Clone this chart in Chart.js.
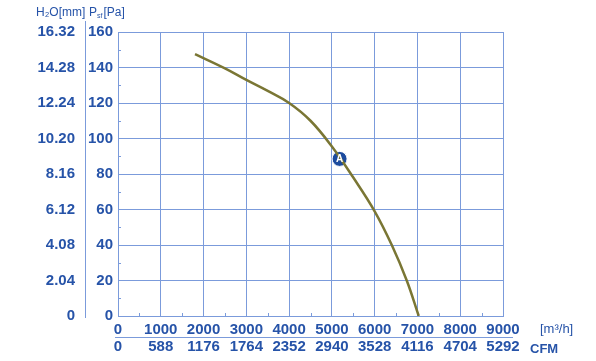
<!DOCTYPE html>
<html>
<head>
<meta charset="utf-8">
<script src="https://cdn.jsdelivr.net/npm/chart.js@4.4.1/dist/chart.umd.min.js"></script>
<style>
    html, body { margin: 0; padding: 0; background: #fff; }
    #wrap { width: 596px; height: 361px; position: relative; }
</style>
</head>
<body>
<div id="wrap"><canvas id="fan-chart"></canvas></div>
<script>
/* Fan curve: static pressure vs air flow */

const FLOW_TICKS = [0, 1000, 2000, 3000, 4000, 5000, 6000, 7000, 8000, 9000];
const FLOW_LABELS = ["0", "1000", "2000", "3000", "4000", "5000", "6000", "7000", "8000", "9000"];
const CFM_LABELS = ["0", "588", "1176", "1764", "2352", "2940", "3528", "4116", "4704", "5292"];
const PA_TICKS = [0, 20, 40, 60, 80, 100, 120, 140, 160];
const MM_LABELS = ["0", "2.04", "4.08", "6.12", "8.16", "10.20", "12.24", "14.28", "16.32"];

const CURVE_FLOW = [1800, 2500, 3000, 3500, 4000, 4500, 5000, 5500, 6000, 6400, 6750, 7030];
const CURVE_PA   = [147.5, 139.5, 133, 126.8, 120, 110, 95.5, 78, 59, 40, 20, 0];

const POINT_A_FLOW = [5180];
const POINT_A_PA = [88.5];
const POINT_A_LABEL = "A";

const MINOR_FLOW = [500, 1500, 2500, 3500, 4500, 5500, 6500, 7500, 8500];
const MINOR_PA = [10, 30, 50, 70, 90, 110, 130, 150];

const TEXT_BLUE = "#2653a8";
const GRID_BLUE = "#7b9bdb";
const CURVE_OLIVE = "#7a7634";
const MARK_BLUE = "#1c4b9e";
const FONT = "'Liberation Sans', Arial, sans-serif";

/* ---------- Extra drawing: separators, minor ticks, titles ---------- */

const decorPlugin = {
    id: "decor",
    afterDraw(chart) {
        const { ctx, chartArea, scales } = chart;
        const xs = scales.x, ys = scales.y, xc = scales.xC, yh = scales.yH;
        ctx.save();

        // separators between the double label rows / columns
        ctx.strokeStyle = GRID_BLUE;
        ctx.lineWidth = 1;
        ctx.beginPath();
        ctx.moveTo(yh.right + 0.5, chartArea.top - 11);
        ctx.lineTo(yh.right + 0.5, chartArea.bottom + 2);
        ctx.moveTo(chartArea.left - 3, xc.top + 0.5);
        ctx.lineTo(chartArea.right + 10, xc.top + 0.5);
        ctx.stroke();

        // minor ticks
        ctx.beginPath();
        MINOR_FLOW.forEach(v => {
            const px = Math.round(xs.getPixelForValue(v)) + 0.5;
            ctx.moveTo(px, chartArea.bottom);
            ctx.lineTo(px, chartArea.bottom - 3);
        });
        MINOR_PA.forEach(v => {
            const py = Math.round(ys.getPixelForValue(v)) + 0.5;
            ctx.moveTo(chartArea.left, py);
            ctx.lineTo(chartArea.left + 3, py);
        });
        ctx.stroke();

        // axis titles
        ctx.fillStyle = TEXT_BLUE;
        ctx.textBaseline = "middle";
        ctx.textAlign = "left";
        ctx.font = `12px ${FONT}`;
        ctx.fillText("H\u2082O[mm]", 36, 13);

        let x = 89;
        ctx.fillText("P", x, 13);
        x += ctx.measureText("P").width;
        ctx.font = `7px ${FONT}`;
        ctx.fillText("sf", x, 16);
        x += ctx.measureText("sf").width + 1;
        ctx.font = `12px ${FONT}`;
        ctx.fillText("[Pa]", x, 13);

        ctx.font = `13px ${FONT}`;
        ctx.fillText("[m\u00b3/h]", 540, xs.top + 13);
        ctx.font = `bold 13px ${FONT}`;
        ctx.fillText("CFM", 530, xc.top + 12);

        // label inside point A
        const meta = chart.getDatasetMeta(1);
        const pt = meta.data[0];
        if (pt) {
            ctx.fillStyle = "#fff";
            ctx.textAlign = "center";
            ctx.font = `bold 10px ${FONT}`;
            ctx.fillText(POINT_A_LABEL, pt.x, pt.y + 0.5);
        }
        ctx.restore();
    }
};

/* ---------- Chart ---------- */

function renderChart() {
    const ctx = document.getElementById("fan-chart");
    const tickFont = { family: FONT, size: 15, weight: "bold" };

    new Chart(ctx, {
        type: "scatter",
        data: {
            datasets: [
                {
                    label: "Fan curve",
                    data: CURVE_FLOW.map((f, i) => ({ x: f, y: CURVE_PA[i] })),
                    showLine: true,
                    borderColor: CURVE_OLIVE,
                    borderWidth: 2.5,
                    pointRadius: 0,
                    tension: 0.4,
                    fill: false,
                },
                {
                    label: "Point A",
                    data: POINT_A_FLOW.map((f, i) => ({ x: f, y: POINT_A_PA[i] })),
                    pointRadius: 7.5,
                    pointBackgroundColor: MARK_BLUE,
                    pointBorderColor: "#fff",
                    pointBorderWidth: 1,
                }
            ]
        },
        options: {
            responsive: true,
            maintainAspectRatio: false,
            animation: false,
            layout: { padding: { top: 32, right: 93, bottom: 2, left: 0 } },
            plugins: {
                legend: { display: false },
                tooltip: { enabled: false }
            },
            scales: {
                x: {
                    type: "linear",
                    position: "bottom",
                    weight: 0,
                    min: FLOW_TICKS[0],
                    max: FLOW_TICKS[FLOW_TICKS.length - 1],
                    afterBuildTicks: s => { s.ticks = FLOW_TICKS.map(v => ({ value: v })); },
                    ticks: {
                        color: TEXT_BLUE, font: tickFont, autoSkip: false, maxRotation: 0, padding: 5,
                        callback: (v, i) => FLOW_LABELS[i]
                    },
                    grid: { color: GRID_BLUE, drawTicks: false },
                    border: { color: GRID_BLUE },
                    afterFit: s => { s.height = 21; }
                },
                xC: {
                    type: "linear",
                    position: "bottom",
                    weight: 1,
                    min: FLOW_TICKS[0],
                    max: FLOW_TICKS[FLOW_TICKS.length - 1],
                    afterBuildTicks: s => { s.ticks = FLOW_TICKS.map(v => ({ value: v })); },
                    ticks: {
                        color: TEXT_BLUE, font: tickFont, autoSkip: false, maxRotation: 0, padding: 1,
                        callback: (v, i) => CFM_LABELS[i]
                    },
                    grid: { display: false, drawTicks: false },
                    border: { display: false },
                    afterFit: s => { s.height = 22; }
                },
                y: {
                    type: "linear",
                    position: "left",
                    weight: 0,
                    min: PA_TICKS[0],
                    max: PA_TICKS[PA_TICKS.length - 1],
                    afterBuildTicks: s => { s.ticks = PA_TICKS.map(v => ({ value: v })); },
                    ticks: { color: TEXT_BLUE, font: tickFont, padding: 5 },
                    grid: { color: GRID_BLUE, drawTicks: false },
                    border: { color: GRID_BLUE },
                    afterFit: s => { s.width = 33; }
                },
                yH: {
                    type: "linear",
                    position: "left",
                    weight: 1,
                    min: PA_TICKS[0],
                    max: PA_TICKS[PA_TICKS.length - 1],
                    afterBuildTicks: s => { s.ticks = PA_TICKS.map(v => ({ value: v })); },
                    ticks: {
                        color: TEXT_BLUE, font: tickFont, padding: 10,
                        callback: (v, i) => MM_LABELS[i]
                    },
                    grid: { display: false, drawTicks: false },
                    border: { display: false },
                    afterFit: s => { s.width = 85; }
                }
            }
        },
        plugins: [decorPlugin]
    });
}

// Boot
document.addEventListener("DOMContentLoaded", renderChart);
</script>
</body>
</html>
